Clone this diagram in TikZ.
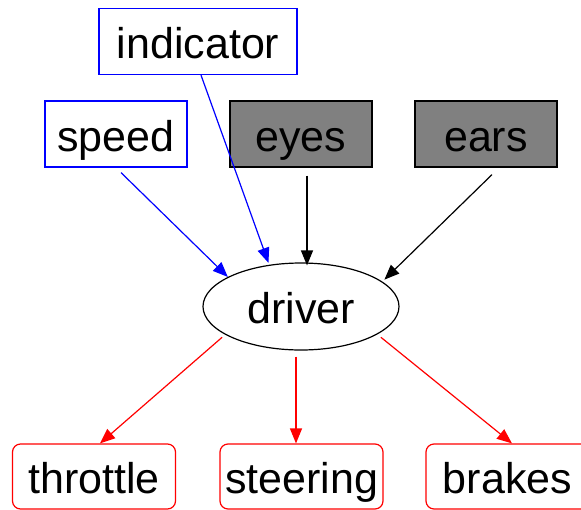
\documentclass[tikz,border=0pt]{standalone}
\usepackage{fontspec}
\setmainfont{Liberation Sans}
\usetikzlibrary{arrows.meta}
\usetikzlibrary{shapes.geometric}

\begin{document}
\begin{tikzpicture}[x=1pt, y=-1pt,
	every node/.style={font=\fontsize{43}{50}\selectfont, line width=1.2pt, inner sep=0pt, text height=34pt, text depth=0pt},
	sensor/.style={draw=blue, minimum width=142pt, minimum height=66pt},
	organ/.style={draw=black, fill=gray, minimum width=142pt, minimum height=66pt},
	control/.style={draw=red, rounded corners=8pt, minimum width=163pt, minimum height=65pt},
	link/.style={line width=1.2pt, -{Triangle[length=15pt,width=12pt]}}]
	\useasboundingbox (0,0) rectangle (581,509);
	
	\node[sensor, minimum width=198pt] (indicator) at (198, 41.5) {indicator};
	\node[sensor] (speed) at (116, 134) {speed};
	\node[organ] (eyes) at (301, 134) {eyes};
	\node[organ] (ears) at (486, 134) {ears};
	
	\node[draw, ellipse, minimum width=196pt, minimum height=87pt] (driver) at (301, 306.5) {driver};
	
	\node[control] (throttle) at (94, 476.5) {throttle};
	\node[control] (steering) at (301.5, 476.5) {steering};
	\node[control] (brakes) at (507.5, 476.5) {brakes};
	
	\draw[link, blue] ([xshift=5pt]speed.south) ++(0,5) -- (driver.158);
	\draw[link, blue] ([xshift=3pt]indicator.south) -- ([shift={(0,-2)}]driver.128);
	\draw[link] ([xshift=6pt]eyes.south) ++(0,8) -- ([xshift=6pt,yshift=-3pt]driver.north);
	\draw[link] ([xshift=6pt]ears.south) ++(0,7) -- ([shift={(2,-2)}]driver.17);
	
	\draw[link, red] ([shift={(-4,2)}]driver.201) -- ([xshift=6pt]throttle.north);
	\draw[link, red] ([xshift=-5pt]driver.south) ++(0,6) -- ([xshift=-5.5pt]steering.north);
	\draw[link, red] ([shift={(5,2)}]driver.-21) -- ([xshift=4.5pt]brakes.north);
\end{tikzpicture}
\end{document}
